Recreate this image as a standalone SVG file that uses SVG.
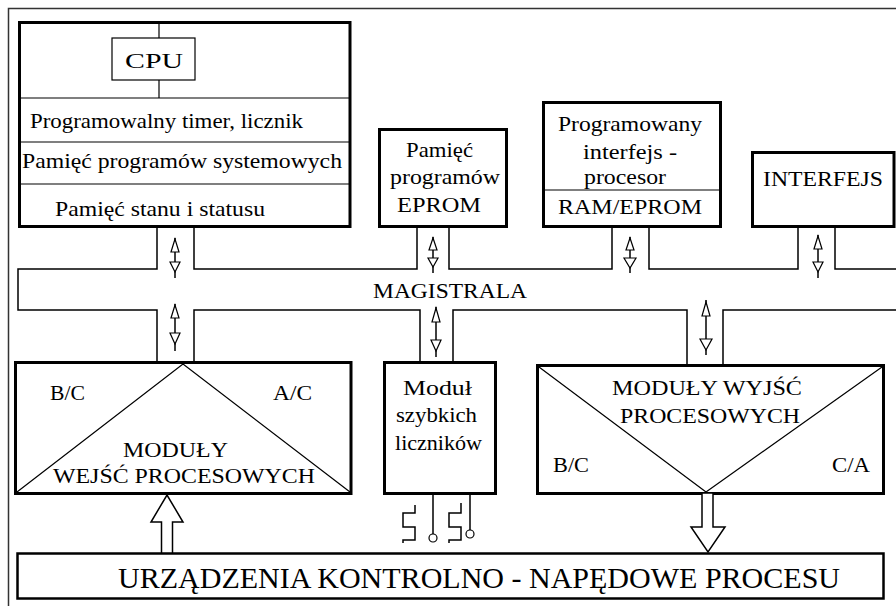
<svg xmlns="http://www.w3.org/2000/svg" width="896" height="606" viewBox="0 0 896 606">
  <style>
    text { font-family: "Liberation Serif", "Times New Roman", serif; font-size: 22px; fill: #000; }
    .big { font-size: 30px; }
    .box { fill: #fff; stroke: #000; stroke-width: 3; }
    .thin { fill: none; stroke: #000; stroke-width: 1.2; }
    .bus { fill: none; stroke: #000; stroke-width: 1.5; }
    .head { fill: #fff; stroke: #000; stroke-width: 1.2; }
    .fat { fill: #fff; stroke: #000; stroke-width: 1.5; }
  </style>
  <rect x="0" y="0" width="896" height="606" fill="#fff"/>
  <!-- page frame -->
  <path d="M8.5,606 V8.5 H896" fill="none" stroke="#333" stroke-width="1.5"/>

  <!-- processor unit -->
  <g id="cpu-unit">
    <rect class="box" x="19.5" y="22.5" width="330.5" height="204"/>
    <path class="thin" d="M159,22 V38 M159,80 V98 M19.5,98 H350 M19.5,142 H350 M19.5,184 H350"/>
    <rect class="thin" x="112" y="38" width="83" height="42" fill="#fff"/>
    <text x="125" y="68" font-size="24" textLength="58" lengthAdjust="spacingAndGlyphs">CPU</text>
    <text x="30" y="128" textLength="273" lengthAdjust="spacingAndGlyphs">Programowalny timer, licznik</text>
    <text x="22" y="168" textLength="320" lengthAdjust="spacingAndGlyphs">Pamięć programów systemowych</text>
    <text x="55" y="216" textLength="210" lengthAdjust="spacingAndGlyphs">Pamięć stanu i statusu</text>
  </g>

  <g id="eprom">
    <rect class="box" x="379.5" y="129.5" width="127" height="97"/>
    <text x="406" y="157" textLength="67" lengthAdjust="spacingAndGlyphs">Pamięć</text>
    <text x="390" y="184" textLength="110" lengthAdjust="spacingAndGlyphs">programów</text>
    <text x="397" y="212" textLength="84" lengthAdjust="spacingAndGlyphs">EPROM</text>
  </g>

  <g id="interface-processor">
    <rect class="box" x="543.5" y="102.5" width="177" height="124"/>
    <path class="thin" d="M543.5,190 H720.5"/>
    <text x="558" y="131" textLength="144" lengthAdjust="spacingAndGlyphs">Programowany</text>
    <text x="583" y="159" textLength="94" lengthAdjust="spacingAndGlyphs">interfejs -</text>
    <text x="584" y="184" textLength="82" lengthAdjust="spacingAndGlyphs">procesor</text>
    <text x="558" y="214" textLength="144" lengthAdjust="spacingAndGlyphs">RAM/EPROM</text>
  </g>

  <g id="interface">
    <rect class="box" x="752.5" y="152.5" width="141.5" height="74"/>
    <text x="763" y="186" textLength="120" lengthAdjust="spacingAndGlyphs">INTERFEJS</text>
  </g>

  <g id="input-modules">
    <rect class="box" x="15.5" y="362.5" width="335.5" height="131"/>
    <path class="thin" d="M17,492 L183,364 L350,492"/>
    <text x="50" y="400" textLength="35" lengthAdjust="spacingAndGlyphs">B/C</text>
    <text x="273" y="400" textLength="39" lengthAdjust="spacingAndGlyphs">A/C</text>
    <text x="123" y="457" textLength="105" lengthAdjust="spacingAndGlyphs">MODUŁY</text>
    <text x="53" y="483" textLength="262" lengthAdjust="spacingAndGlyphs">WEJŚĆ PROCESOWYCH</text>
  </g>

  <g id="counter-module">
    <rect class="box" x="384.5" y="362.5" width="111" height="131"/>
    <text x="403" y="395" textLength="69" lengthAdjust="spacingAndGlyphs">Moduł</text>
    <text x="396" y="422" textLength="81" lengthAdjust="spacingAndGlyphs">szybkich</text>
    <text x="395" y="450" textLength="87" lengthAdjust="spacingAndGlyphs">liczników</text>
    <!-- pulse inputs -->
    <path class="bus" d="M433,495 V534 M470,495 V530"/>
    <circle class="head" cx="433" cy="538" r="4"/>
    <circle class="head" cx="470" cy="534" r="4"/>
    <path class="bus" d="M415,505 V513 H403 V527 H415 V540 H403 V543"/>
    <path class="bus" d="M461,503 V513 H449 V527 H461 V540 H449 V543"/>
  </g>

  <g id="output-modules">
    <rect class="box" x="537.5" y="365.5" width="346" height="128"/>
    <path class="thin" d="M539,367 L706,492 L882,367"/>
    <text x="612" y="395" textLength="190" lengthAdjust="spacingAndGlyphs">MODUŁY WYJŚĆ</text>
    <text x="620" y="423" textLength="180" lengthAdjust="spacingAndGlyphs">PROCESOWYCH</text>
    <text x="553" y="472" textLength="36" lengthAdjust="spacingAndGlyphs">B/C</text>
    <text x="832" y="472" textLength="38" lengthAdjust="spacingAndGlyphs">C/A</text>
  </g>

  <g id="process-devices">
    <rect x="17.5" y="553.5" width="866" height="45" fill="#fff" stroke="#000" stroke-width="2.5"/>
    <text class="big" x="118" y="588" textLength="722" lengthAdjust="spacingAndGlyphs">URZĄDZENIA KONTROLNO - NAPĘDOWE PROCESU</text>
  </g>

  <!-- system bus and connectors -->
  <g id="connectors">
    <path class="bus" d="M157,228 V269 H18 V310 H157 V362"/>
    <path class="bus" d="M194,228 V269 H417 V228"/>
    <path class="bus" d="M449,228 V269 H612 V228"/>
    <path class="bus" d="M649,228 V269 H798 V228"/>
    <path class="bus" d="M835,228 V269 H896"/>
    <path class="bus" d="M194,362 V310 H420 V362"/>
    <path class="bus" d="M453,362 V310 H687 V365"/>
    <path class="bus" d="M723,365 V310 H896"/>
    <text x="373" y="298" textLength="154" lengthAdjust="spacingAndGlyphs">MAGISTRALA</text>

    <!-- bidirectional data arrows -->
    <g>
      <path class="bus" d="M175,238 V278"/>
      <polygon class="head" points="175,239 171,252 179,252"/>
      <polygon class="head" points="170,262 180,262 175,272"/>
    </g>
    <g>
      <path class="bus" d="M175,304 V351"/>
      <polygon class="head" points="175,305 171,318 179,318"/>
      <polygon class="head" points="170,333 180,333 175,344"/>
    </g>
    <g>
      <path class="bus" d="M433,237 V273"/>
      <polygon class="head" points="433,238 429,250 437,250"/>
      <polygon class="head" points="428,258 438,258 433,267"/>
    </g>
    <g>
      <path class="bus" d="M436,307 V357"/>
      <polygon class="head" points="436,308 432,322 440,322"/>
      <polygon class="head" points="431,340 441,340 436,351"/>
    </g>
    <g>
      <path class="bus" d="M630,237 V273"/>
      <polygon class="head" points="630,238 626,250 634,250"/>
      <polygon class="head" points="624,258 636,258 630,268"/>
    </g>
    <g>
      <path class="bus" d="M706,300 V355"/>
      <polygon class="head" points="706,302 702,316 710,316"/>
      <polygon class="head" points="700,339 712,339 706,350"/>
    </g>
    <g>
      <path class="bus" d="M818,235 V278"/>
      <polygon class="head" points="818,236 814,249 822,249"/>
      <polygon class="head" points="813,262 823,262 818,272"/>
    </g>

    <!-- process signal flow -->
    <polygon class="fat" points="161.5,553 161.5,522 151,522 167,495 183,522 172.5,522 172.5,553"/>
    <polygon class="fat" points="702,493 702,527 691,527 708,552 725,527 713,527 713,493"/>
  </g>
</svg>
